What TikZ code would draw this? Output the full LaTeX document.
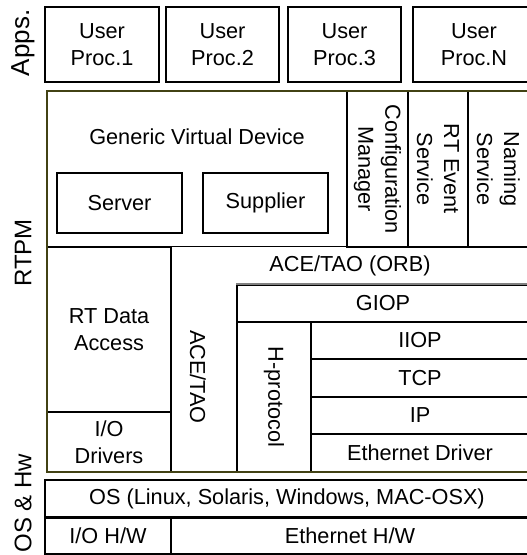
\documentclass[tikz,border=0pt]{standalone}
\usepackage{fontspec}
\setmainfont{Liberation Sans}
\definecolor{rtpmolive}{RGB}{66,66,20}
\definecolor{giopgray}{RGB}{128,128,128}
\begin{document}
\begin{tikzpicture}[x=1pt,y=-1pt,
    font=\fontsize{21.7}{27}\selectfont,
    box/.style={draw,line width=1.2pt,inner sep=0pt,align=center},
    vbox/.style={box,rotate=-90},
    layer/.style={font=\fontsize{24}{28}\selectfont,rotate=90,inner sep=0pt}]
\useasboundingbox (0,0) rectangle (527,555);
% layer names
\node[layer,font=\fontsize{26}{30}\selectfont] (apps) at (23,43) {Apps.};
\node[layer] (rtpm) at (23,253) {RTPM};
\node[layer] (oshw) at (23,503) {OS \& Hw};
% user processes
\draw (102,44.5) node[box,minimum width=114pt,minimum height=75pt] (up1) {User\\Proc.1};
\draw (222.5,44.5) node[box,minimum width=113pt,minimum height=75pt] (up2) {User\\Proc.2};
\draw (344.5,44.5) node[box,minimum width=113pt,minimum height=75pt] (up3) {User\\Proc.3};
\draw (474,44.5) node[box,minimum width=122pt,minimum height=75pt] (upn) {User\\Proc.N};
% generic virtual device and services
\node (gvd) at (197,137) {Generic Virtual Device};
\draw (119.5,203) node[box,minimum width=125pt,minimum height=60pt] (srv) {Server};
\draw (265.5,203) node[box,minimum width=125pt,minimum height=60pt] (sup) {Supplier};
\draw (377.5,169) node[vbox,minimum width=156pt,minimum height=61pt] (cfg) {Configuration\\Manager};
\draw (438,169) node[vbox,minimum width=156pt,minimum height=60pt] (rte) {RT Event\\Service};
\draw (498.5,169) node[vbox,minimum width=156pt,minimum height=61pt] (nam) {Naming\\Service};
% data access
\draw (109,329.5) node[box,minimum width=124pt,minimum height=165pt] (rtda) {RT Data\\Access};
\draw (109,442) node[box,minimum width=124pt,minimum height=60pt] (iod) {I/O\\Drivers};
% ace/tao
\node[inner sep=0pt,minimum width=358pt,minimum height=38pt] (orb) at (350,266) {ACE/TAO (ORB)};
\node[rotate=-90] (acetao) at (198,377) {ACE/TAO};
\draw[line width=1.2pt] (orb.north west) -- (orb.north east);
\draw (383,303.5) node[box,minimum width=292pt,minimum height=37pt] (giop) {GIOP};
\draw[giopgray,line width=2pt] (giop.north west) -- (giop.north east);
\draw (274,397) node[vbox,minimum width=150pt,minimum height=74pt] (hp) {H-protocol};
\draw (420,340.5) node[box,minimum width=218pt,minimum height=37pt] (iiop) {IIOP};
\draw (420,378) node[box,minimum width=218pt,minimum height=38pt] (tcp) {TCP};
\draw (420,415.5) node[box,minimum width=218pt,minimum height=37pt] (ip) {IP};
\draw (420,453) node[box,minimum width=218pt,minimum height=38pt] (eth) {Ethernet Driver};
% rtpm frame
\draw[rtpmolive,line width=2.2pt] (47,91) rectangle (529,472);
% os and hardware
\draw (287,498.5) node[box,minimum width=484pt,minimum height=37pt] (os) {OS (Linux, Solaris, Windows, MAC-OSX)};
\draw (108,535.5) node[box,minimum width=126pt,minimum height=37pt] (iohw) {I/O H/W};
\draw (350,535.5) node[box,minimum width=358pt,minimum height=37pt] (ethhw) {Ethernet H/W};
\draw[line width=2pt] (os.south west) -- (os.south east);
\end{tikzpicture}
\end{document}
